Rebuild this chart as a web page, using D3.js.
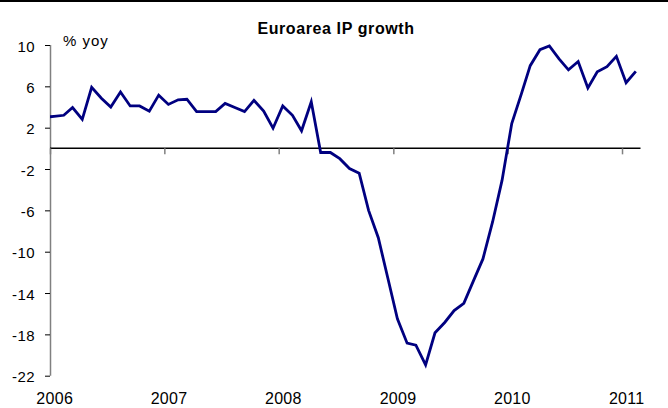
<!DOCTYPE html>
<html>
<head>
<meta charset="utf-8">
<script src="https://cdn.jsdelivr.net/npm/d3@7"></script>
<style>
  html, body { margin: 0; padding: 0; background: #fff; }
  svg { display: block; font-family: "Liberation Sans", Arial, sans-serif; }
</style>
</head>
<body>
<svg id="chart" width="668" height="408"></svg>
<script>
// Euro area industrial production, % change year on year, monthly.
const firstMonth = new Date(2005, 11, 1); // series begins December 2005
const ipYoY = [
  3.0,                                                              // 2005 Dec
  3.1, 3.2, 3.95, 2.8, 5.9, 4.85, 4.0, 5.45, 4.1, 4.1, 3.6, 5.15,   // 2006
  4.25, 4.7, 4.75, 3.55, 3.55, 3.55, 4.35, 3.95, 3.55, 4.65, 3.6, 1.95, // 2007
  4.1, 3.2, 1.7, 4.5, -0.4, -0.4, -1.0, -1.95, -2.4, -6.0, -8.65, -12.5, // 2008
  -16.5, -18.85, -19.05, -20.95, -17.85, -16.85, -15.7, -15.0, -12.8, -10.7, -7.1, -3.1, // 2009
  2.4, 5.3, 8.0, 9.55, 9.9, 8.65, 7.6, 8.4, 5.85, 7.4, 7.9, 8.9,    // 2010
  6.35, 7.45                                                        // 2011
];
const yTicks = [10, 6, 2, -2, -6, -10, -14, -18, -22];
const yearTicks = [2006, 2007, 2008, 2009, 2010, 2011];
const titleText = "Euroarea IP growth";
const unitText = "% yoy";

const svg = d3.select("#chart");

// Each monthly observation sits mid-month on the time axis.
const series = ipYoY.map((v, i) => ({
  date: d3.timeDay.offset(d3.timeMonth.offset(firstMonth, i), 13),
  value: v
}));

const plot = { left: 50, right: 640.5, top: 45, bottom: 375.7 };

const x = d3.scaleTime()
  .domain([new Date(2006, 0, 1), new Date(2011, 2, 1)])
  .range([plot.left, plot.right]);

const y = d3.scaleLinear()
  .domain([-22, 10])
  .range([plot.bottom, plot.top]);

// thin rule along the top edge
svg.append("rect")
  .attr("x", 0).attr("y", 0)
  .attr("width", 668).attr("height", 2)
  .attr("fill", "#000");

// title
svg.append("text")
  .attr("x", 336).attr("y", 34)
  .attr("text-anchor", "middle")
  .attr("font-size", 16)
  .attr("font-weight", "bold")
  .attr("letter-spacing", 0.6)
  .attr("fill", "#000")
  .text(titleText);

// unit label
svg.append("text")
  .attr("x", 63).attr("y", 45.5)
  .attr("font-size", 15)
  .attr("letter-spacing", 1)
  .attr("fill", "#000")
  .text(unitText);

// vertical value axis (plain hyphen for negatives)
const yAxis = svg.append("g")
  .attr("transform", `translate(${plot.left},0)`)
  .call(d3.axisLeft(y).tickValues(yTicks).tickSize(5).tickPadding(10).tickFormat(d => String(d)));
yAxis.select(".domain").attr("stroke", "#808080").attr("stroke-width", 1.5).attr("d", `M0.5,${plot.top}V${plot.bottom}`);
yAxis.selectAll(".tick line").attr("stroke", "#000").attr("stroke-width", 1);
yAxis.selectAll(".tick text")
  .attr("font-size", 15)
  .attr("font-family", "Liberation Sans, Arial, sans-serif")
  .attr("letter-spacing", 0.4)
  .attr("fill", "#000")
  .attr("dy", null)
  .attr("y", 6);

// horizontal axis along zero, with year ticks hanging below
const xAxis = svg.append("g")
  .attr("transform", `translate(0,${y(0)})`)
  .call(d3.axisBottom(x).tickValues(yearTicks.map(yr => new Date(yr, 0, 1))).tickSize(6).tickFormat(""));
xAxis.select(".domain").attr("stroke", "#000").attr("stroke-width", 1.5).attr("d", `M${plot.left},0H${plot.right}`);
xAxis.selectAll(".tick line").attr("stroke", "#808080").attr("stroke-width", 1.5);

// year labels along the bottom, centred on the January interval
svg.append("g")
  .selectAll("text")
  .data(yearTicks)
  .join("text")
  .attr("x", yr => x(new Date(yr, 0, 16)))
  .attr("y", 404)
  .attr("text-anchor", "middle")
  .attr("font-size", 16)
  .attr("letter-spacing", 0.3)
  .attr("fill", "#000")
  .text(d => d);

// clip the series to the plotting area
svg.append("clipPath").attr("id", "plotClip")
  .append("rect")
  .attr("x", plot.left).attr("y", 0)
  .attr("width", plot.right - plot.left + 2).attr("height", 408);

const line = d3.line()
  .x(d => x(d.date))
  .y(d => y(d.value));

svg.append("path")
  .datum(series)
  .attr("clip-path", "url(#plotClip)")
  .attr("fill", "none")
  .attr("stroke", "#000080")
  .attr("stroke-width", 2.8)
  .attr("stroke-linejoin", "miter")
  .attr("d", line);
</script>
</body>
</html>
